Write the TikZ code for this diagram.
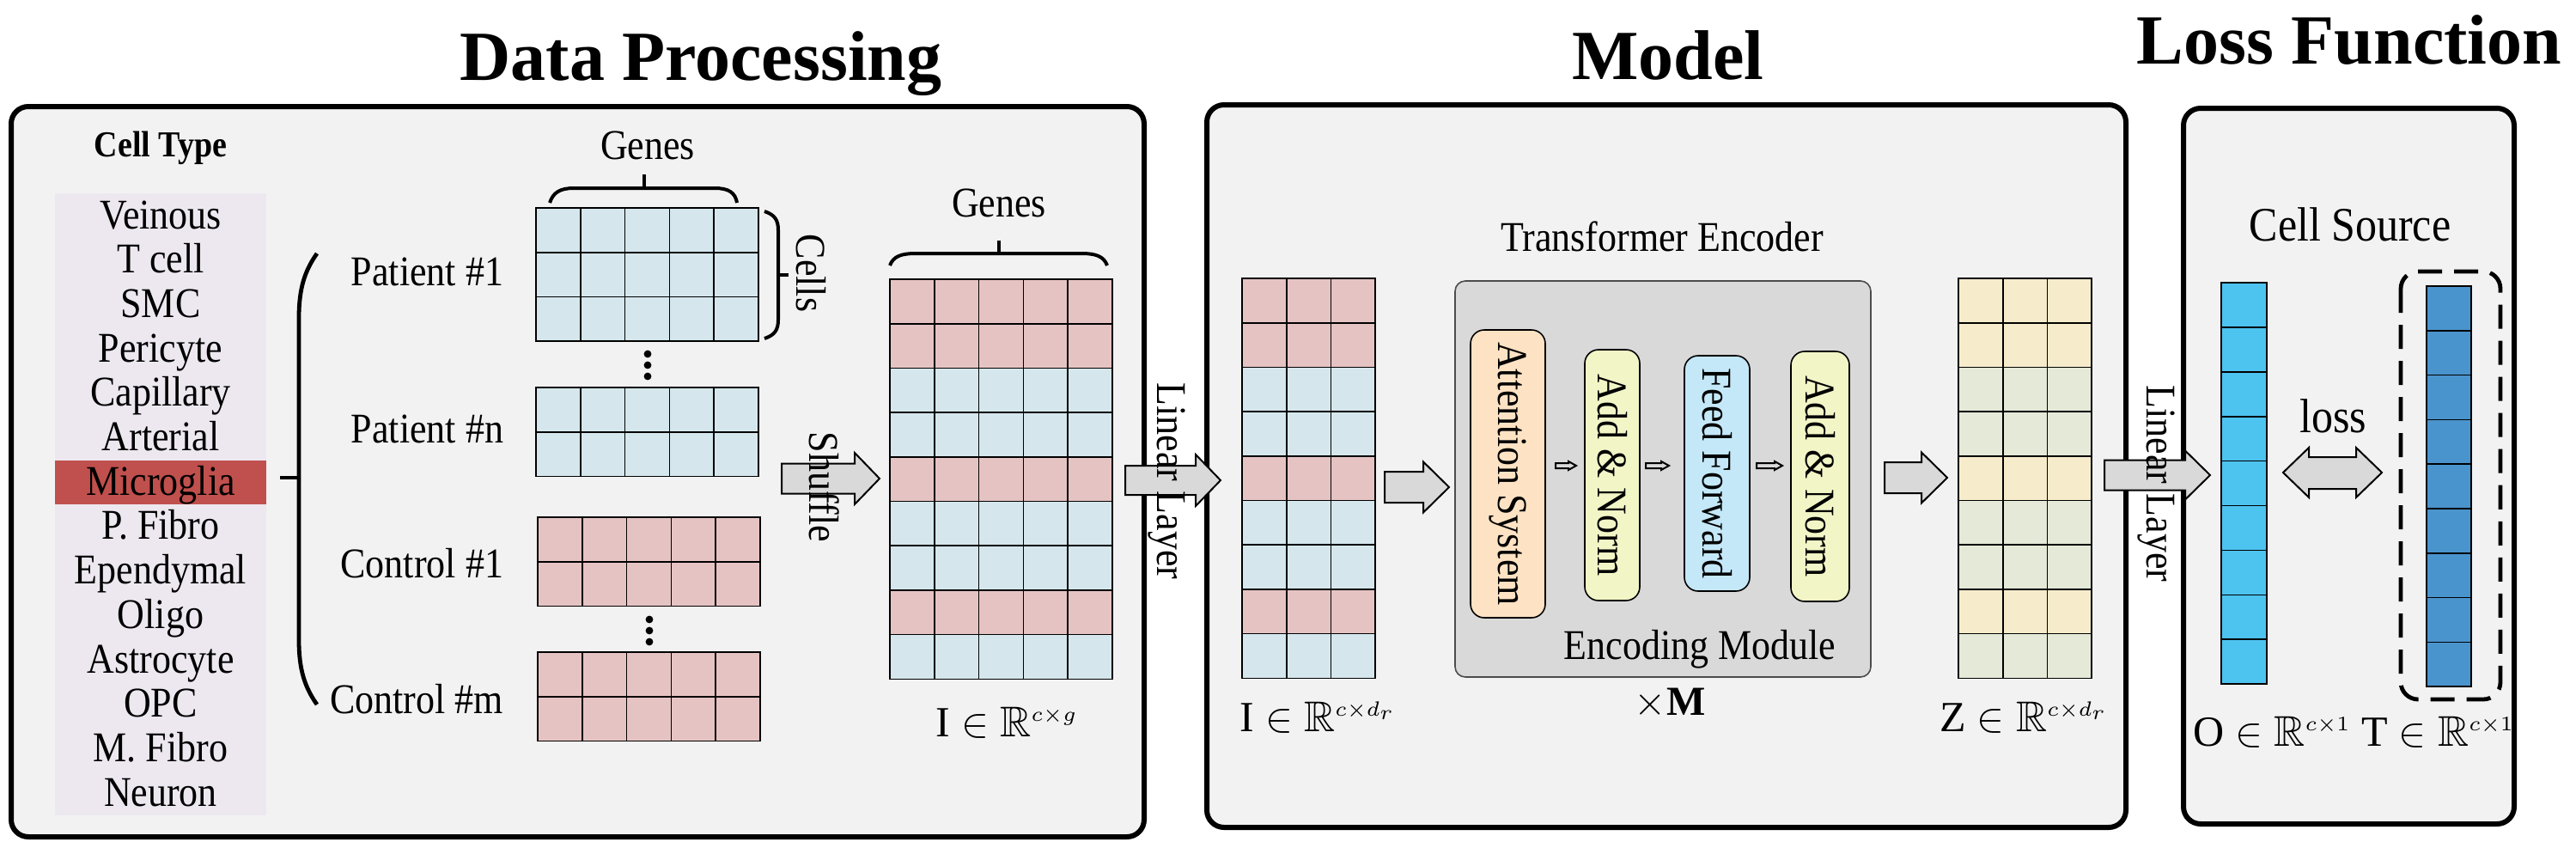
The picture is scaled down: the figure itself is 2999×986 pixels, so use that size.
\documentclass[tikz,border=0pt]{standalone}
\usepackage{fontspec}
\setmainfont{Liberation Serif}
\usepackage{amssymb}
\usepackage{graphicx}
\definecolor{panelbg}{HTML}{F2F2F2}
\definecolor{listbg}{HTML}{EDE8F0}
\definecolor{micro}{HTML}{C0504D}
\definecolor{pinkc}{HTML}{E6C3C3}
\definecolor{bluec}{HTML}{D5E7ED}
\definecolor{yelc}{HTML}{F6ECCB}
\definecolor{grnc}{HTML}{E4E9D8}
\definecolor{arrowc}{HTML}{D9D9D9}
\definecolor{encbg}{HTML}{D9D9D9}
\definecolor{attc}{HTML}{FDE2C3}
\definecolor{addc}{HTML}{F2F5C6}
\definecolor{ffc}{HTML}{C4E8F8}
\definecolor{oc}{HTML}{4DC3F0}
\definecolor{tc}{HTML}{4A94CD}
\newcommand{\vs}[1]{\scalebox{1}[1.12]{#1}}
% grid: x0, y0, last column index, cell width, cell height, colour list
\newcommand{\mygrid}[6]{%
  \foreach \gcolr [count=\grw from 0] in {#6} {
    \foreach \gcl in {0,...,#3} {
      \draw[gridline, fill=\gcolr] ({#1+\gcl*#4},{#2+\grw*#5}) rectangle ++(#4,#5);
    }
  }
}
% block arrow: x start, head start, tip, y centre, body half, head half
\newcommand{\barrow}[6]{%
  \draw[barrowst] ({#1},{#4-#5}) -- ({#2},{#4-#5}) -- ({#2},{#4-#6}) -- ({#3},{#4})
    -- ({#2},{#4+#6}) -- ({#2},{#4+#5}) -- ({#1},{#4+#5}) -- cycle;
}
\begin{document}
\begin{tikzpicture}[x=0.25pt,y=-0.25pt,
  every node/.style={inner sep=0pt, outer sep=0pt, font=\fontsize{11}{13}\selectfont},
  panelst/.style={draw=black, line width=1.5pt, fill=panelbg, rounded corners=5pt},
  gridline/.style={draw=black, line width=0.4pt},
  barrowst/.style={draw=black, line width=0.5pt, fill=arrowc},
  bracest/.style={draw=black, line width=1pt},
  titlest/.style={font=\fontsize{20.5}{24}\selectfont\bfseries},
  lab/.style={font=\fontsize{12.5}{15}\selectfont},
  encbox/.style={draw=black, line width=0.4pt, rounded corners=4pt, rotate=-90}
]
\useasboundingbox (0,0) rectangle (2999,986);
\fill[white] (0,0) rectangle (2999,986);

% ---------------- titles ----------------
\node[titlest, anchor=base] (t1) at (816,93) {Data Processing};
\node[titlest, anchor=base] (t2) at (1942,92) {Model};
\node[titlest, anchor=base] (t3) at (2735,74) {Loss Function};

% ---------------- panels ----------------
\draw[panelst] (13,124) rectangle (1332,974);
\draw[panelst] (1405,122) rectangle (2475,963);
\draw[panelst] (2542,126) rectangle (2927,959);

% ---------------- cell type list ----------------
\node[anchor=base, font=\fontsize{9.5}{11}\selectfont\bfseries] (ctt) at (187,182) {\vs{Cell Type}};
\fill[listbg] (64,225) rectangle (310,949);
\fill[micro] (64,536) rectangle (310,587);
\foreach \nm [count=\i from 0] in {Veinous,T cell,SMC,Pericyte,Capillary,Arterial,Microglia,P. Fibro,Ependymal,Oligo,Astrocyte,OPC,M. Fibro,Neuron} {
  \node[anchor=base] (ct\i) at (187,{266+\i*51.7}) {\vs{\nm}};
}

% big brace
\draw[line width=1.2pt] (369,295) .. controls (355,315) and (348,335) .. (348,370) -- (348,745) .. controls (348,780) and (355,800) .. (369,820);
\draw[line width=1.2pt] (326,556) -- (348,556);

% patient / control labels
\node[anchor=base east] (p1) at (586,332) {\vs{Patient \#1}};
\node[anchor=base east] (pn) at (586,515) {\vs{Patient \#n}};
\node[anchor=base east] (c1) at (586,672) {\vs{Control \#1}};
\node[anchor=base east] (cm) at (586,830) {\vs{Control \#m}};

% grids
\mygrid{624}{242}{4}{51.8}{51.7}{bluec,bluec,bluec}
\mygrid{624}{451}{4}{51.8}{51.7}{bluec,bluec}
\mygrid{626}{602}{4}{51.8}{51.7}{pinkc,pinkc}
\mygrid{626}{759}{4}{51.8}{51.7}{pinkc,pinkc}

\foreach \yy in {412,425,438} \fill (754,\yy) circle (1.1pt);
\foreach \yy in {721,734,747} \fill (756,\yy) circle (1.1pt);

% genes brace 1
\node[anchor=base] (g1) at (754,185) {\vs{Genes}};
\draw[bracest] (640,236) .. controls (644,224) and (652,219) .. (668,219) -- (832,219) .. controls (848,219) and (856,224) .. (858,236);
\draw[bracest] (750,219) -- (750,203);
% cells brace
\draw[bracest] (890,246) .. controls (902,250) and (906,256) .. (906,268) -- (906,372) .. controls (906,384) and (902,390) .. (890,394);
\draw[bracest] (906,320) -- (918,320);
\node[rotate=-90] (cells) at (944,318) {\vs{Cells}};

% shuffle arrow
\barrow{910}{995}{1024}{557}{17.5}{30}
\node[rotate=-90] (shuf) at (960,567) {\vs{Shuffle}};

% shuffled grid
\node[anchor=base] (g2) at (1163,252) {\vs{Genes}};
\draw[bracest] (1036,309) .. controls (1040,298) and (1050,295) .. (1066,295) -- (1259,295) .. controls (1275,295) and (1285,298) .. (1289,309);
\draw[bracest] (1163,295) -- (1163,280);
\mygrid{1036}{325}{4}{51.8}{51.7}{pinkc,pinkc,bluec,bluec,pinkc,bluec,bluec,pinkc,bluec}
\node[lab, anchor=base] (lI) at (1172,857) {$\mathrm{I}\in\mathbb{R}^{\scriptscriptstyle c\times g}$};

% linear layer arrow 1
\barrow{1310}{1392}{1421}{559}{17}{30}
\node[rotate=-90] (lin1) at (1358,560) {\vs{Linear Layer}};

% ---------------- model ----------------
\mygrid{1446}{324}{2}{51.7}{51.7}{pinkc,pinkc,bluec,bluec,pinkc,bluec,bluec,pinkc,bluec}
\node[lab, anchor=base west] (lI2) at (1443,851) {$\mathrm{I}\in\mathbb{R}^{\scriptscriptstyle c\times d_r}$};

\barrow{1612}{1657}{1687}{567}{18}{29.5}

\node[anchor=base] (te) at (1935,292) {\vs{Transformer Encoder}};
\draw[draw=black!70, line width=0.4pt, fill=encbg, rounded corners=3pt] (1694,327) rectangle (2178,788);
\node[encbox, fill=attc, minimum width=83.75pt, minimum height=21.75pt] (att) at (1755.5,551.5) {\vs{Attention System}};
\node[encbox, fill=addc, minimum width=73pt, minimum height=16pt] (an1) at (1877,553) {\vs{Add \& Norm}};
\node[encbox, fill=ffc, minimum width=68.5pt, minimum height=19pt] (ff) at (1999,551) {\vs{Feed Forward}};
\node[encbox, fill=addc, minimum width=72.75pt, minimum height=17pt] (an2) at (2119,554.5) {\vs{Add \& Norm}};
\barrow{1811}{1826}{1835}{542}{3}{5}
\barrow{1916}{1934}{1943}{542}{3}{5}
\barrow{2045}{2066}{2075}{542}{3}{5}
\node[anchor=base] (em) at (1979,767) {\vs{Encoding Module}};
\node[anchor=base, font=\fontsize{12}{14}\selectfont] (xm) at (1944,832) {$\times$\textbf{M}};

\barrow{2194}{2237}{2267}{556}{18}{29.5}

\mygrid{2280}{324}{2}{51.7}{51.7}{yelc,yelc,grnc,grnc,yelc,grnc,grnc,yelc,grnc}
\node[lab, anchor=base west] (lZ) at (2258,851) {$\mathrm{Z}\in\mathbb{R}^{\scriptscriptstyle c\times d_r}$};

% linear layer arrow 2
\barrow{2450}{2544}{2573}{553}{17.5}{28.5}
\node[rotate=-90] (lin2) at (2510,563) {\vs{Linear Layer}};

% ---------------- loss ----------------
\node[anchor=base, font=\fontsize{12.5}{15}\selectfont] (cs) at (2736,280) {\vs{Cell Source}};
\mygrid{2586}{329}{0}{53}{51.9}{oc,oc,oc,oc,oc,oc,oc,oc,oc}
\mygrid{2825}{333}{0}{52}{51.8}{tc,tc,tc,tc,tc,tc,tc,tc,tc}
\draw[line width=1.2pt, dash pattern=on 7pt off 3.5pt, rounded corners=5pt] (2795,316) rectangle (2911,814);
\draw[barrowst] (2658,550) -- (2688,521) -- (2688,532) -- (2743,532) -- (2743,521) -- (2773,550)
  -- (2743,579) -- (2743,569) -- (2688,569) -- (2688,579) -- cycle;
\node[anchor=base, font=\fontsize{12.5}{15}\selectfont] (loss) at (2716,503) {\vs{loss}};
\node[lab, anchor=base west] (lO) at (2553,868) {$\mathrm{O}\in\mathbb{R}^{\scriptscriptstyle c\times 1}$};
\node[lab, anchor=base west] (lT) at (2749,868) {$\mathrm{T}\in\mathbb{R}^{\scriptscriptstyle c\times 1}$};
\end{tikzpicture}
\end{document}
